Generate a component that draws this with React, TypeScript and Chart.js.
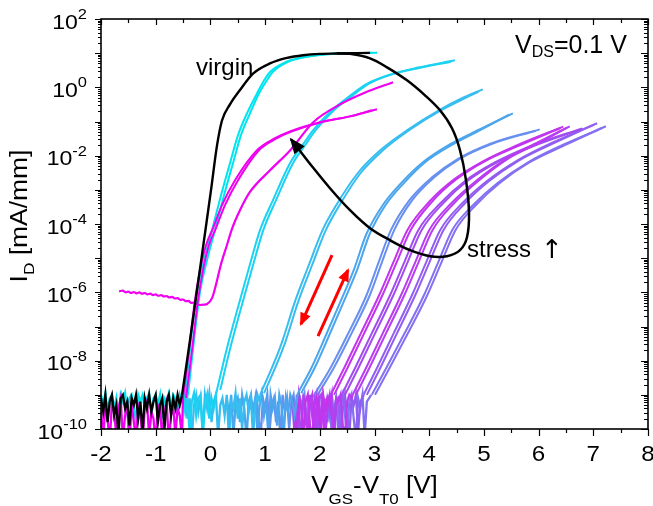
import React, { useEffect, useRef } from 'react';
import { Chart, registerables } from 'chart.js';

Chart.register(...registerables);

// ---------------- axis data ----------------
const X_MIN = -2;
const X_MAX = 8;
const X_TICKS = [-2, -1, 0, 1, 2, 3, 4, 5, 6, 7, 8];
const Y_MIN_EXP = -10;
const Y_MAX_EXP = 2;
const Y_LABEL_EXPS = [2, 0, -2, -4, -6, -8, -10];
const NOISE_STEP = 0.04; // V, sweep step of the noise-floor samples

// ---------------- series (V = VGS-VT0 [V], E = log10 of ID [mA/mm]) ----------------
// virgin
const blackNoiseStart = -2.0;
const blackNoise = [-9.1, -9.5, -9.0, -9.8, -9.2, -9.0, -9.6, -9.3, -10.2, -9.1, -9.0, -9.4, -9.2, -9.9, -9.1, -9.3, -9.0, -9.7, -9.2, -10.1, -9.1, -9.4, -9.0, -9.5, -9.2, -9.0, -9.8, -9.3, -9.1, -10.0, -9.2, -9.0, -9.6, -9.1, -9.4, -9.0, -9.3];
const blackV = [-0.519, -0.373, -0.245, -0.117, 0.011, 0.121, 0.212, 0.358, 0.541, 0.779, 1.09, 1.4, 1.693, 2.0, 2.314, 2.918];
const blackE = [-9.01, -7.4, -5.94, -4.48, -3.01, -1.7, -0.97, -0.5, -0.08, 0.4, 0.7, 0.86, 0.94, 0.98, 0.99, 1.01];

// cyan, first stress
const bNoiseStart = -2.0;
const bNoise = [-9.0, -9.3, -8.95, -9.5, -9.1, -9.0, -9.4, -9.1, -9.7, -9.0, -9.2, -8.95, -9.5, -9.1, -9.0, -9.3, -9.8, -9.0, -9.2, -9.0, -9.4, -9.1, -8.95, -9.6, -9.1, -9.0, -9.3, -9.0, -9.7, -9.1, -9.2, -8.95, -9.4, -9.0, -9.1, -9.5, -9.0, -9.2, -9.1];
const b1V = [-0.464, -0.355, -0.245, -0.117, 0.029, 0.194, 0.358, 0.505, 0.669, 0.852, 0.98, 1.09, 1.364, 1.693, 2.314, 3.046];
const b1E = [-9.01, -7.4, -5.99, -5.06, -4.18, -3.16, -2.22, -1.4, -0.76, -0.18, 0.2, 0.45, 0.73, 0.88, 0.99, 1.01];
const b2V = [-0.41, -0.3, -0.19, -0.062, 0.084, 0.249, 0.413, 0.559, 0.724, 0.888, 1.03, 1.14, 1.4, 1.72, 2.33, 2.96];
const b2E = [-9.01, -7.4, -5.99, -5.06, -4.18, -3.16, -2.22, -1.4, -0.76, -0.18, 0.2, 0.45, 0.73, 0.88, 0.99, 1.01];

// magenta, near virgin
const c1NoiseStart = -2.0;
const c1Noise = [-9.4, -10.3, -9.3, -9.7, -10.4, -9.2, -9.5, -10.2, -9.4, -9.1, -10.3, -9.6, -9.3, -10.5, -9.2, -9.8, -10.3, -9.3, -9.5, -10.4, -9.4, -9.2, -10.2, -9.5, -9.7, -10.4, -9.3, -9.4, -10.3, -9.5, -9.2, -10.4, -9.6, -9.3, -10.2, -9.4, -9.6, -10.3];
const c1aV = [-0.501, -0.391, -0.282, -0.19, -0.08, 0.048, 0.212, 0.45, 0.852, 1.181, 1.455, 2.004, 2.552, 3.046];
const c1aE = [-9.09, -7.69, -6.23, -5.35, -4.62, -4.12, -3.45, -2.72, -1.84, -1.49, -1.29, -1.02, -0.85, -0.64];
const c1bV = [-0.446, -0.336, -0.227, -0.135, -0.026, 0.102, 0.267, 0.505, 0.888, 1.218, 1.492, 2.022, 2.552, 2.954];
const c1bE = [-9.09, -7.69, -6.23, -5.35, -4.62, -4.12, -3.45, -2.72, -1.84, -1.49, -1.29, -1.02, -0.85, -0.67];
const c2V = [-1.67, -1.6, -1.55, -1.5, -1.45, -1.4, -1.35, -1.3, -1.25, -1.2, -1.15, -1.1, -1.05, -1.0, -0.95, -0.9, -0.85, -0.8, -0.75, -0.7, -0.65, -0.6, -0.55, -0.5, -0.45, -0.4, -0.35, -0.3, -0.25, -0.19, -0.12, -0.06, 0.03, 0.1, 0.19, 0.29, 0.4, 0.54, 0.72, 1.09, 1.46, 1.88, 2.37, 2.83, 3.34];
const c2E = [-5.97, -5.95, -6.0, -5.98, -6.02, -5.99, -6.03, -6.0, -6.04, -6.02, -6.06, -6.04, -6.08, -6.06, -6.1, -6.08, -6.12, -6.11, -6.15, -6.13, -6.18, -6.17, -6.22, -6.21, -6.26, -6.25, -6.31, -6.3, -6.35, -6.37, -6.36, -6.34, -6.17, -5.79, -5.2, -4.68, -4.12, -3.6, -3.07, -2.43, -1.84, -1.02, -0.5, -0.15, 0.15];

// cyan D
const dNoiseStart = -0.5;
const dNoise = [-9.0, -9.5, -9.1, -10.1, -9.2, -8.95, -9.6, -9.1, -9.0, -10.2, -9.3, -9.0, -9.7, -9.1, -9.4, -9.0];
const d1V = [0.12, 0.3, 0.54, 0.72, 0.907, 1.144, 1.455, 1.7, 1.876, 2.2, 2.55, 2.86, 3.3, 3.8, 4.47];
const d1E = [-8.86, -7.65, -6.23, -5.2, -4.18, -3.3, -2.22, -1.65, -1.26, -0.7, -0.25, 0.1, 0.38, 0.58, 0.79];
const d2V = [0.18, 0.36, 0.6, 0.78, 0.967, 1.2, 1.51, 1.75, 1.92, 2.24, 2.59, 2.89, 3.32, 3.8, 4.4];
const d2E = [-8.86, -7.65, -6.23, -5.2, -4.18, -3.3, -2.22, -1.65, -1.26, -0.7, -0.25, 0.1, 0.38, 0.56, 0.75];

// light blue E
const eNoiseStart = -0.5;
const eNoise = [-9.2, -9.0, -9.7, -9.1, -10.3, -9.3, -9.0, -9.5, -9.1, -10.1, -9.0, -9.4, -8.95, -9.8, -9.2, -9.0, -10.2, -9.3, -9.1, -9.6, -9.0, -10.3, -9.2, -9.4, -8.95, -9.7, -9.1, -10.0, -9.2, -9.0, -9.5, -9.1, -10.2, -9.3, -9.0, -9.2];
const e1V = [0.92, 1.1, 1.3, 1.55, 1.8, 2.05, 2.3, 2.7, 3.1, 3.6, 4.2, 4.6, 4.98];
const e1E = [-8.95, -8.3, -7.5, -6.25, -5.2, -4.18, -3.45, -2.5, -1.85, -1.25, -0.65, -0.32, -0.06];
const e2V = [0.98, 1.16, 1.36, 1.61, 1.86, 2.11, 2.36, 2.75, 3.15, 3.64, 4.22, 4.6, 4.9];
const e2E = [-8.95, -8.3, -7.5, -6.25, -5.2, -4.18, -3.45, -2.5, -1.85, -1.25, -0.67, -0.36, -0.13];

// blue F
const fNoiseStart = 0.3;
const fNoise = [-9.1, -9.6, -9.0, -10.2, -9.3, -9.1, -9.8, -9.0, -9.4, -10.3, -9.2, -9.0, -9.5, -9.1, -10.1, -9.3, -8.95, -9.6, -9.2, -10.2, -9.0, -9.4, -9.1, -9.9, -9.0, -9.3, -10.2, -9.1, -9.5, -9.0, -9.2, -9.6];
const f1V = [1.6, 1.85, 2.1, 2.37, 2.62, 2.85, 3.15, 3.5, 3.88, 4.37, 4.94, 5.53];
const f1E = [-8.95, -8.2, -7.3, -6.3, -5.35, -4.3, -3.45, -2.78, -2.2, -1.68, -1.22, -0.76];
const f2V = [1.66, 1.91, 2.16, 2.43, 2.68, 2.91, 3.2, 3.55, 3.92, 4.4, 4.95, 5.46];
const f2E = [-8.95, -8.2, -7.3, -6.3, -5.35, -4.3, -3.45, -2.78, -2.2, -1.7, -1.24, -0.8];

// blue-violet G
const gNoiseStart = 0.8;
const gNoise = [-9.3, -9.0, -9.7, -10.2, -9.1, -9.4, -9.0, -10.1, -9.3, -9.1, -9.8, -9.2, -10.3, -9.0, -9.5, -9.1, -10.0, -9.2, -9.0, -9.6, -10.2, -9.1, -9.3, -9.0, -9.9, -9.2, -9.1];
const g1V = [1.9, 2.2, 2.52, 2.85, 3.08, 3.3, 3.64, 4.04, 4.52, 5.12, 6.02];
const g1E = [-9.0, -8.2, -7.2, -6.1, -5.1, -4.18, -3.3, -2.65, -2.1, -1.65, -1.23];
const g2V = [1.96, 2.26, 2.58, 2.91, 3.14, 3.36, 3.69, 4.08, 4.55, 5.14, 5.95];
const g2E = [-9.0, -8.2, -7.2, -6.1, -5.1, -4.18, -3.3, -2.65, -2.1, -1.66, -1.27];

// magenta M1
const m1NoiseStart = 1.5;
const m1Noise = [-9.1, -9.6, -10.3, -9.0, -9.4, -10.2, -9.2, -9.0, -9.9, -10.3, -9.3, -9.1, -9.6, -10.2, -9.0, -9.4, -9.1, -9.3];
const m1aV = [2.2, 2.45, 2.75, 3.08, 3.35, 3.6, 4.0, 4.45, 5.0, 5.6, 6.45];
const m1aE = [-9.0, -8.2, -7.2, -6.1, -5.1, -4.18, -3.35, -2.7, -2.15, -1.7, -1.15];
const m1bV = [2.26, 2.51, 2.81, 3.14, 3.41, 3.66, 4.05, 4.49, 5.03, 5.62, 6.4];
const m1bE = [-9.0, -8.2, -7.2, -6.1, -5.1, -4.18, -3.35, -2.7, -2.15, -1.72, -1.19];

// purple P1
const p1NoiseStart = 1.5;
const p1Noise = [-9.2, -10.2, -9.0, -9.5, -10.3, -9.1, -9.4, -10.1, -9.0, -9.6, -9.2, -10.3, -9.1, -9.0, -9.7, -10.2, -9.2, -9.4, -9.0, -10.1, -9.3, -9.1, -9.2];
const p1aV = [2.4, 2.65, 2.95, 3.28, 3.55, 3.8, 4.2, 4.65, 5.2, 5.85, 6.8];
const p1aE = [-9.0, -8.2, -7.2, -6.1, -5.1, -4.18, -3.4, -2.75, -2.2, -1.72, -1.2];
const p1bV = [2.46, 2.71, 3.01, 3.34, 3.61, 3.86, 4.25, 4.69, 5.23, 5.87, 6.74];
const p1bE = [-9.0, -8.2, -7.2, -6.1, -5.1, -4.18, -3.4, -2.75, -2.2, -1.74, -1.24];

// magenta M2
const m2NoiseStart = 1.7;
const m2Noise = [-9.0, -9.7, -10.2, -9.2, -9.0, -10.3, -9.4, -9.1, -9.8, -9.2, -10.1, -9.3, -9.0, -9.6, -10.3, -9.1, -9.2, -9.0, -9.9, -10.2, -9.2, -9.0, -9.1];
const m2aV = [2.6, 2.85, 3.15, 3.48, 3.75, 4.0, 4.4, 4.85, 5.4, 6.0, 6.57];
const m2aE = [-9.0, -8.2, -7.2, -6.1, -5.1, -4.18, -3.4, -2.75, -2.1, -1.6, -1.14];
const m2bV = [2.66, 2.91, 3.21, 3.54, 3.81, 4.06, 4.45, 4.89, 5.43, 6.02, 6.52];
const m2bE = [-9.0, -8.2, -7.2, -6.1, -5.1, -4.18, -3.4, -2.75, -2.1, -1.62, -1.18];

// purple P2
const p2NoiseStart = 1.9;
const p2Noise = [-9.3, -9.0, -10.2, -9.5, -9.1, -10.3, -9.2, -9.6, -9.0, -10.0, -9.2, -9.1, -10.3, -9.4, -9.0, -9.7, -10.2, -9.1, -9.3, -9.0, -10.1, -9.2, -9.1];
const p2aV = [2.8, 3.05, 3.35, 3.68, 3.95, 4.2, 4.6, 5.05, 5.6, 6.25, 7.07];
const p2aE = [-9.0, -8.2, -7.2, -6.1, -5.1, -4.18, -3.4, -2.75, -2.15, -1.62, -1.05];
const p2bV = [2.86, 3.11, 3.41, 3.74, 4.01, 4.26, 4.65, 5.09, 5.63, 6.27, 7.0];
const p2bE = [-9.0, -8.2, -7.2, -6.1, -5.1, -4.18, -3.4, -2.75, -2.15, -1.64, -1.1];

// purple P3
const p3NoiseStart = 2.1;
const p3Noise = [-9.1, -9.8, -9.0, -10.3, -9.4, -9.1, -10.2, -9.3, -9.0, -9.6, -10.1, -9.2, -9.0, -9.7, -10.3, -9.1, -9.4, -9.0, -10.2, -9.2, -9.1, -9.0];
const p3aV = [2.95, 3.22, 3.55, 3.9, 4.17, 4.42, 4.8, 5.25, 5.8, 6.45, 7.23];
const p3aE = [-9.0, -8.2, -7.2, -6.1, -5.1, -4.18, -3.45, -2.8, -2.2, -1.68, -1.14];
const p3bV = [3.01, 3.28, 3.61, 3.96, 4.23, 4.48, 4.85, 5.29, 5.83, 6.47, 7.16];
const p3bE = [-9.0, -8.2, -7.2, -6.1, -5.1, -4.18, -3.45, -2.8, -2.2, -1.7, -1.19];

// annotation: hand-drawn stress loop with arrow
const loopV = [2.314, 2.552, 2.918, 3.229, 3.594, 3.923, 4.198, 4.417, 4.563, 4.673, 4.728, 4.691, 4.563, 4.325, 4.015, 3.649, 3.283, 2.918, 2.552, 2.186, 1.857, 1.601, 1.473];
const loopE = [0.994, 0.98, 0.848, 0.585, 0.205, -0.234, -0.673, -1.199, -1.842, -2.719, -3.684, -4.386, -4.766, -4.942, -4.942, -4.766, -4.474, -4.123, -3.596, -2.953, -2.31, -1.784, -1.52];
// red sweep-direction arrows
const arrow1V = [2.223, 1.656];
const arrow1E = [-4.912, -6.93];
const arrow2V = [1.967, 2.516];
const arrow2E = [-7.28, -5.35];

// ---------------- helpers ----------------
const FONT = '"Liberation Sans", Arial, Helvetica, sans-serif';
const toPts = (v: number[], e: number[]) => v.map((x, i) => ({ x, y: Math.pow(10, e[i]) }));
const noisePts = (start: number, e: number[]) =>
  e.map((val, i) => ({ x: start + i * NOISE_STEP, y: Math.pow(10, val) }));

function curve(data: any[], color: string, width: number, extra: any = {}) {
  return {
    data,
    borderColor: color,
    backgroundColor: color,
    borderWidth: width,
    pointRadius: 0,
    pointHoverRadius: 0,
    fill: false,
    cubicInterpolationMode: 'monotone',
    ...extra,
  };
}

// noise floor (straight segments) joined to the first measured point of the rising curve
function noise(start: number, vals: number[], v: number[], e: number[], color: string) {
  return curve([...noisePts(start, vals), ...toPts(v, e).slice(0, 1)], color, 2.3, {
    cubicInterpolationMode: 'default',
    tension: 0,
    borderJoinStyle: 'miter',
  });
}

const COL = {
  black: '#000000',
  b: '#00e4ee',
  c: '#f000f0',
  d: '#1cd2f2',
  e: '#38bdf0',
  f: '#4ba6ee',
  g: '#6890f0',
  m1: '#c234ee',
  p1: '#a24cf0',
  m2: '#b83cf0',
  p2: '#925ef2',
  p3: '#8470f2',
  red: '#ff0000',
};

const LW = 2;

function buildDatasets() {
  return [
    curve(toPts(loopV, loopE), COL.black, 2.5, { cubicInterpolationMode: 'default', tension: 0.35, arrowHead: { len: 14, half: 6.5 } }),
    curve(toPts(arrow1V, arrow1E), COL.red, 3, { cubicInterpolationMode: 'default', tension: 0, arrowHead: { len: 11, half: 5.5 } }),
    curve(toPts(arrow2V, arrow2E), COL.red, 3, { cubicInterpolationMode: 'default', tension: 0, arrowHead: { len: 11, half: 5.5 } }),
    curve(toPts(blackV, blackE), COL.black, 2.4),
    noise(blackNoiseStart, blackNoise, blackV, blackE, COL.black),
    curve(toPts(c2V, c2E), COL.c, 2.2),
    curve(toPts(c1aV, c1aE), COL.c, LW),
    curve(toPts(c1bV, c1bE), COL.c, LW),
    noise(c1NoiseStart, c1Noise, c1aV, c1aE, COL.c),
    curve(toPts(b1V, b1E), COL.b, LW),
    curve(toPts(b2V, b2E), COL.b, LW),
    noise(bNoiseStart, bNoise, b1V, b1E, COL.b),
    curve(toPts(d1V, d1E), COL.d, LW),
    curve(toPts(d2V, d2E), COL.d, LW),
    noise(dNoiseStart, dNoise, d1V, d1E, COL.d),
    curve(toPts(e1V, e1E), COL.e, LW),
    curve(toPts(e2V, e2E), COL.e, LW),
    noise(eNoiseStart, eNoise, e1V, e1E, COL.e),
    curve(toPts(f1V, f1E), COL.f, LW),
    curve(toPts(f2V, f2E), COL.f, LW),
    noise(fNoiseStart, fNoise, f1V, f1E, COL.f),
    curve(toPts(m1aV, m1aE), COL.m1, LW),
    curve(toPts(m1bV, m1bE), COL.m1, LW),
    noise(m1NoiseStart, m1Noise, m1aV, m1aE, COL.m1),
    curve(toPts(m2aV, m2aE), COL.m2, LW),
    curve(toPts(m2bV, m2bE), COL.m2, LW),
    noise(m2NoiseStart, m2Noise, m2aV, m2aE, COL.m2),
    curve(toPts(p1aV, p1aE), COL.p1, LW),
    curve(toPts(p1bV, p1bE), COL.p1, LW),
    noise(p1NoiseStart, p1Noise, p1aV, p1aE, COL.p1),
    curve(toPts(p2aV, p2aE), COL.p2, LW),
    curve(toPts(p2bV, p2bE), COL.p2, LW),
    noise(p2NoiseStart, p2Noise, p2aV, p2aE, COL.p2),
    curve(toPts(p3aV, p3aE), COL.p3, LW),
    curve(toPts(p3bV, p3bE), COL.p3, LW),
    noise(p3NoiseStart, p3Noise, p3aV, p3aE, COL.p3),
    curve(toPts(g1V, g1E), COL.g, LW),
    curve(toPts(g2V, g2E), COL.g, LW),
    noise(gNoiseStart, gNoise, g1V, g1E, COL.g),
  ];
}

// draw a run of text parts [text, size, dy, family?], scaled horizontally by sx
function rich(ctx: CanvasRenderingContext2D, parts: any[], x: number, y: number, align: 'left' | 'center' | 'right', sx = 1) {
  ctx.save();
  ctx.textAlign = 'left';
  ctx.textBaseline = 'alphabetic';
  let total = 0;
  const fontOf = (p: any) => `${p[1]}px ${p[3] || FONT}`;
  const ws = parts.map((p: any) => {
    ctx.font = fontOf(p);
    const w = ctx.measureText(p[0]).width;
    total += w;
    return w;
  });
  let cx = align === 'center' ? -total / 2 : align === 'right' ? -total : 0;
  ctx.translate(x, y);
  ctx.scale(sx, 1);
  parts.forEach((p: any, i: number) => {
    ctx.font = fontOf(p);
    ctx.fillText(p[0], cx, p[2]);
    cx += ws[i];
  });
  ctx.restore();
}

const arrowHeads = {
  id: 'arrowHeads',
  afterDatasetsDraw(chart: any) {
    const ctx = chart.ctx;
    chart.data.datasets.forEach((ds: any, i: number) => {
      const head = ds.arrowHead;
      if (!head) return;
      const pts = chart.getDatasetMeta(i).data;
      const n = pts.length;
      if (n < 2) return;
      const p1 = pts[n - 2];
      const p2 = pts[n - 1];
      const ang = Math.atan2(p2.y - p1.y, p2.x - p1.x);
      ctx.save();
      ctx.fillStyle = ds.borderColor;
      ctx.translate(p2.x, p2.y);
      ctx.rotate(ang);
      ctx.beginPath();
      ctx.moveTo(2, 0);
      ctx.lineTo(-head.len, -head.half);
      ctx.lineTo(-head.len, head.half);
      ctx.closePath();
      ctx.fill();
      ctx.restore();
    });
  },
};

const decor = {
  id: 'decor',
  afterDraw(chart: any) {
    const { ctx, chartArea: a, scales } = chart;
    const xs = scales.x;
    const ys = scales.y;
    ctx.save();
    ctx.fillStyle = '#000';
    ctx.strokeStyle = '#000';

    // ticks
    ctx.lineWidth = 1.2;
    ctx.beginPath();
    X_TICKS.forEach((t) => {
      const px = Math.round(xs.getPixelForValue(t)) + 0.5;
      ctx.moveTo(px, a.bottom); ctx.lineTo(px, a.bottom + 7);
      ctx.moveTo(px, a.top); ctx.lineTo(px, a.top + 6);
      if (t < X_MAX) {
        const pm = Math.round(xs.getPixelForValue(t + 0.5)) + 0.5;
        ctx.moveTo(pm, a.bottom); ctx.lineTo(pm, a.bottom + 4);
        ctx.moveTo(pm, a.top); ctx.lineTo(pm, a.top + 4);
      }
    });
    for (let ex = Y_MIN_EXP; ex <= Y_MAX_EXP; ex++) {
      const py = Math.round(ys.getPixelForValue(Math.pow(10, ex))) + 0.5;
      ctx.moveTo(a.left - 6, py); ctx.lineTo(a.left, py);
      ctx.moveTo(a.right - 7, py); ctx.lineTo(a.right, py);
      if (ex < Y_MAX_EXP) {
        for (let m = 2; m <= 9; m++) {
          const pm = Math.round(ys.getPixelForValue(m * Math.pow(10, ex))) + 0.5;
          ctx.moveTo(a.left - 3, pm); ctx.lineTo(a.left, pm);
          ctx.moveTo(a.right - 4, pm); ctx.lineTo(a.right, pm);
        }
      }
    }
    ctx.stroke();

    // frame
    ctx.lineWidth = 1.6;
    ctx.strokeRect(a.left, a.top, a.right - a.left, a.bottom - a.top);

    // y tick labels 10^n
    Y_LABEL_EXPS.forEach((ex) => {
      const py = ys.getPixelForValue(Math.pow(10, ex));
      rich(ctx, [['10', 21, 0], [String(ex), 15, -9.5]], 87, py + 9.5, 'right', 1.1);
    });
    // x tick labels
    X_TICKS.forEach((t) => {
      const px = xs.getPixelForValue(t);
      rich(ctx, [[String(t), 22, 0]], px, 461, 'center', 1.1);
    });

    // x title
    rich(ctx, [['V', 23, 0], ['GS', 15, 11], ['-V', 23, 0], ['T0', 15, 11], [' [V]', 23, 0]], (a.left + a.right) / 2, 493, 'center', 1.13);

    // y title (rotated)
    ctx.save();
    ctx.translate(27, 216);
    ctx.rotate(-Math.PI / 2);
    rich(ctx, [['I', 23, 0], ['D', 15, 7], [' [mA/mm]', 23, 0]], 0, 0, 'center', 1.15);
    ctx.restore();

    // annotations
    rich(ctx, [['virgin', 24, 0]], 196, 75, 'left', 1);
    rich(ctx, [['stress', 24, 0]], 467, 257, 'left', 1);
    rich(ctx, [['\u2191', 26, 0, '"DejaVu Sans", sans-serif']], 541, 258, 'left', 1);
    rich(ctx, [['V', 25, 0], ['DS', 16, 4], ['=0.1 V', 25, 0]], 515, 53, 'left', 1);

    ctx.restore();
  },
};

export default function App() {
  const ref = useRef<HTMLCanvasElement | null>(null);

  useEffect(() => {
    if (!ref.current) return;
    const chart = new Chart(ref.current, {
      type: 'line',
      data: { datasets: buildDatasets() as any },
      options: {
        responsive: false,
        animation: false,
        events: [],
        layout: { padding: { left: 101, top: 19, right: 5, bottom: 77 } },
        plugins: { legend: { display: false }, tooltip: { enabled: false } },
        elements: { point: { radius: 0 } },
        scales: {
          x: { type: 'linear', min: X_MIN, max: X_MAX, display: false },
          y: { type: 'logarithmic', min: Math.pow(10, Y_MIN_EXP), max: Math.pow(10, Y_MAX_EXP), display: false },
        },
      } as any,
      plugins: [arrowHeads, decor],
    });
    return () => chart.destroy();
  }, []);

  return (
    <div style={{ position: 'absolute', left: 0, top: 0, width: 653, height: 506, background: '#ffffff' }}>
      <canvas ref={ref} width={653} height={506} style={{ display: 'block', width: 653, height: 506 }} />
    </div>
  );
}
